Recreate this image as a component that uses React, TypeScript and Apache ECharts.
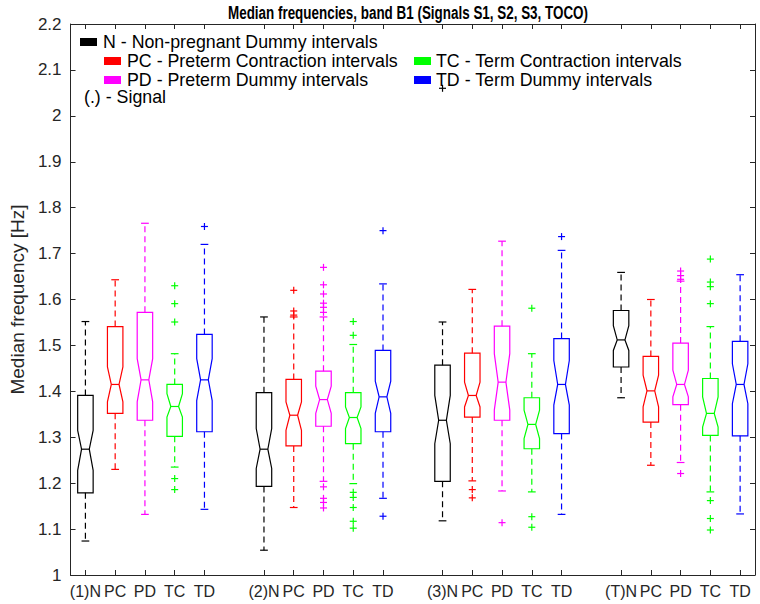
import React, { useEffect, useRef } from "react";
import * as echarts from "echarts";

// x-axis categories (blank slots separate the four signal groups)
const categories = [
  "(1)N", "PC", "PD", "TC", "TD", " ",
  "(2)N", "PC", "PD", "TC", "TD", "  ",
  "(3)N", "PC", "PD", "TC", "TD", "   ",
  "(T)N", "PC", "PD", "TC", "TD",
];

const kinds = ["N", "PC", "PD", "TC", "TD"];
const kindColors = ["#000000", "#ff0000", "#ff00ff", "#00ff00", "#0000ff"];

// Box statistics, 20 boxes: group 1..4, each N, PC, PD, TC, TD
const lowerWhisker = [1.074, 1.230, 1.132, 1.235, 1.143, 1.054, 1.147, 1.204, 1.199, 1.167, 1.118, 1.205, 1.183, 1.181, 1.132, 1.386, 1.239, 1.245, 1.181, 1.133];
const q1 = [1.179, 1.352, 1.337, 1.302, 1.312, 1.193, 1.281, 1.324, 1.286, 1.312, 1.204, 1.344, 1.337, 1.275, 1.308, 1.453, 1.333, 1.371, 1.304, 1.303];
const notchLow = [1.228, 1.377, 1.377, 1.344, 1.380, 1.232, 1.315, 1.352, 1.319, 1.352, 1.286, 1.366, 1.359, 1.297, 1.370, 1.489, 1.366, 1.388, 1.322, 1.373];
const median = [1.274, 1.415, 1.425, 1.367, 1.425, 1.274, 1.348, 1.382, 1.343, 1.388, 1.337, 1.391, 1.420, 1.328, 1.415, 1.512, 1.401, 1.415, 1.352, 1.415];
const notchHigh = [1.315, 1.453, 1.471, 1.395, 1.471, 1.319, 1.377, 1.411, 1.366, 1.422, 1.391, 1.420, 1.482, 1.359, 1.467, 1.543, 1.435, 1.446, 1.388, 1.460];
const q3 = [1.391, 1.541, 1.572, 1.415, 1.524, 1.397, 1.426, 1.444, 1.397, 1.489, 1.457, 1.483, 1.542, 1.386, 1.515, 1.576, 1.476, 1.505, 1.428, 1.509];
const upperWhisker = [1.552, 1.643, 1.766, 1.482, 1.720, 1.562, 1.562, 1.562, 1.502, 1.634, 1.551, 1.622, 1.727, 1.482, 1.707, 1.659, 1.600, 1.640, 1.541, 1.654];

// Outliers: [box index, value]
const outliers: [number, number][] = [
  [3, 1.630], [3, 1.591], [3, 1.551], [3, 1.210], [3, 1.186],
  [4, 1.759],
  [6, 1.620], [6, 1.575], [6, 1.566],
  [7, 1.670], [7, 1.632], [7, 1.612], [7, 1.592], [7, 1.583], [7, 1.572], [7, 1.192], [7, 1.167], [7, 1.158], [7, 1.146],
  [8, 1.552], [8, 1.522], [8, 1.180], [8, 1.169], [8, 1.147], [8, 1.117], [8, 1.102],
  [9, 1.750], [9, 1.128],
  [10, 2.06],
  [11, 1.186], [11, 1.168],
  [12, 1.114],
  [13, 1.581], [13, 1.127], [13, 1.104],
  [14, 1.737],
  [17, 1.662], [17, 1.652], [17, 1.644], [17, 1.221],
  [18, 1.688], [18, 1.638], [18, 1.628], [18, 1.591], [18, 1.162], [18, 1.123], [18, 1.098],
];

const legendItems = [
  { label: "N - Non-pregnant Dummy intervals", kind: 0 },
  { label: "PC - Preterm Contraction intervals", kind: 1 },
  { label: "PD - Preterm Dummy intervals", kind: 2 },
  { label: "TC - Term Contraction intervals", kind: 3 },
  { label: "TD - Term Dummy intervals", kind: 4 },
];
const signalNote = "(.) - Signal";
const titleText = "Median frequencies, band B1 (Signals S1, S2, S3, TOCO)";
const yName = "Median frequency [Hz]";

const catOfBox = (b: number) => Math.floor(b / 5) * 6 + (b % 5);

const AXIS_COLOR = "#262626";
const LW = 1.2;

function boxRenderer(color: string) {
  return (params: any, api: any) => {
    const xi = api.value(0);
    const y = (i: number) => api.coord([xi, api.value(i)])[1];
    const cx = api.coord([xi, api.value(4)])[0];
    const bw = api.size([1, 0])[0];
    const hw = bw * 0.26;
    const nw = hw * 0.5;
    const yLw = y(1), yQ1 = y(2), yNl = y(3), yMed = y(4), yNh = y(5), yQ3 = y(6), yUw = y(7);
    const solid = { stroke: color, lineWidth: LW, fill: "none" };
    const dashed = { stroke: color, lineWidth: LW, fill: "none", lineDash: [6, 4] };
    return {
      type: "group",
      children: [
        {
          type: "polygon",
          shape: {
            points: [
              [cx - hw, yQ3], [cx + hw, yQ3], [cx + hw, yNh], [cx + nw, yMed], [cx + hw, yNl],
              [cx + hw, yQ1], [cx - hw, yQ1], [cx - hw, yNl], [cx - nw, yMed], [cx - hw, yNh],
            ],
          },
          style: solid,
        },
        { type: "line", shape: { x1: cx - nw, y1: yMed, x2: cx + nw, y2: yMed }, style: solid },
        { type: "line", shape: { x1: cx, y1: yQ3, x2: cx, y2: yUw }, style: dashed },
        { type: "line", shape: { x1: cx, y1: yQ1, x2: cx, y2: yLw }, style: dashed },
        { type: "line", shape: { x1: cx - nw, y1: yUw, x2: cx + nw, y2: yUw }, style: solid },
        { type: "line", shape: { x1: cx - nw, y1: yLw, x2: cx + nw, y2: yLw }, style: solid },
      ],
    };
  };
}

function plusRenderer(color: string) {
  return (params: any, api: any) => {
    const p = api.coord([api.value(0), api.value(1)]);
    const s = 3.5;
    const st = { stroke: color, lineWidth: LW };
    return {
      type: "group",
      children: [
        { type: "line", shape: { x1: p[0] - s, y1: p[1], x2: p[0] + s, y2: p[1] }, style: st },
        { type: "line", shape: { x1: p[0], y1: p[1] - s, x2: p[0], y2: p[1] + s }, style: st },
      ],
    };
  };
}

export default function App() {
  const ref = useRef<HTMLDivElement>(null);
  useEffect(() => {
    if (!ref.current) return;
    const chart = echarts.init(ref.current, null, { renderer: "svg" });

    const series: any[] = [];
    kinds.forEach((k, ki) => {
      const data: number[][] = [];
      for (let b = 0; b < 20; b++) {
        if (b % 5 !== ki) continue;
        data.push([catOfBox(b), lowerWhisker[b], q1[b], notchLow[b], median[b], notchHigh[b], q3[b], upperWhisker[b]]);
      }
      series.push({
        name: k,
        type: "custom",
        renderItem: boxRenderer(kindColors[ki]),
        encode: { x: 0, y: [1, 2, 3, 4, 5, 6, 7] },
        data,
        z: 3,
      });
      const od = outliers.filter(([b]) => b % 5 === ki).map(([b, v]) => [catOfBox(b), v]);
      series.push({
        name: k + " outliers",
        type: "custom",
        renderItem: plusRenderer(kindColors[ki]),
        encode: { x: 0, y: 1 },
        data: od,
        z: 3,
      });
    });

    const fontFamily = "'Liberation Sans', Arial, Helvetica, sans-serif";
    const legendGraphics: any[] = [];
    const legendPos = [
      { rx: 80, ry: 38, tx: 103, ty: 42 },
      { rx: 104, ry: 57, tx: 127, ty: 61 },
      { rx: 104, ry: 76, tx: 127, ty: 79.5 },
      { rx: 414, ry: 57, tx: 436, ty: 61 },
      { rx: 414, ry: 76, tx: 436, ty: 79.5 },
    ];
    legendItems.forEach((it, i) => {
      const p = legendPos[i];
      legendGraphics.push({
        type: "rect",
        shape: { x: p.rx, y: p.ry, width: 17, height: 8 },
        style: { fill: kindColors[it.kind] },
        z: 10,
      });
      legendGraphics.push({
        type: "text",
        x: p.tx,
        y: p.ty,
        style: { text: it.label, fill: "#000", font: `17.8px ${fontFamily}`, verticalAlign: "middle" },
        z: 10,
      });
    });
    legendGraphics.push({
      type: "text",
      x: 84,
      y: 97,
      style: { text: signalNote, fill: "#000", font: `17.8px ${fontFamily}`, verticalAlign: "middle" },
      z: 10,
    });
    legendGraphics.push({
      type: "text",
      x: 408,
      y: 12,
      scaleX: 0.726,
      style: {
        text: titleText,
        fill: "#000",
        font: `bold 18.5px ${fontFamily}`,
        align: "center",
        verticalAlign: "middle",
      },
      z: 10,
    });

    const tickInterval = (index: number, value: string) => value.trim() !== "";

    chart.setOption({
      animation: false,
      backgroundColor: "#ffffff",
      grid: { left: 60, right: 5, top: 24, bottom: 29, containLabel: false },
      xAxis: [
        {
          type: "category",
          data: categories,
          boundaryGap: true,
          position: "bottom",
          axisLine: { show: true, lineStyle: { color: AXIS_COLOR, width: 1 } },
          axisTick: { show: true, inside: true, length: 5, interval: tickInterval, alignWithLabel: true, lineStyle: { color: AXIS_COLOR } },
          axisLabel: { show: true, interval: 0, color: AXIS_COLOR, fontSize: 16, fontFamily, margin: 8 },
          splitLine: { show: false },
        },
        {
          type: "category",
          data: categories,
          boundaryGap: true,
          position: "top",
          axisLine: { show: true, lineStyle: { color: AXIS_COLOR, width: 1 } },
          axisTick: { show: true, inside: true, length: 5, interval: tickInterval, alignWithLabel: true, lineStyle: { color: AXIS_COLOR } },
          axisLabel: { show: false },
          splitLine: { show: false },
        },
      ],
      yAxis: [
        {
          type: "value",
          min: 1,
          max: 2.2,
          interval: 0.1,
          position: "left",
          name: yName,
          nameLocation: "middle",
          nameRotate: 90,
          nameGap: 33,
          nameTextStyle: { color: AXIS_COLOR, fontSize: 19, fontFamily },
          axisLine: { show: true, lineStyle: { color: AXIS_COLOR, width: 1 } },
          axisTick: { show: true, inside: true, length: 5, lineStyle: { color: AXIS_COLOR } },
          axisLabel: {
            color: AXIS_COLOR,
            fontSize: 17,
            fontFamily,
            margin: 9,
            formatter: (v: number) => String(Math.round(v * 10) / 10),
          },
          splitLine: { show: false },
        },
        {
          type: "value",
          min: 1,
          max: 2.2,
          interval: 0.1,
          position: "right",
          axisLine: { show: true, lineStyle: { color: AXIS_COLOR, width: 1 } },
          axisTick: { show: true, inside: true, length: 5, lineStyle: { color: AXIS_COLOR } },
          axisLabel: { show: false },
          splitLine: { show: false },
        },
      ],
      graphic: legendGraphics,
      series,
    });
    return () => chart.dispose();
  }, []);

  return (
    <div
      ref={ref}
      style={{ position: "fixed", left: 0, top: 0, width: 760, height: 604, background: "#fff" }}
    />
  );
}
